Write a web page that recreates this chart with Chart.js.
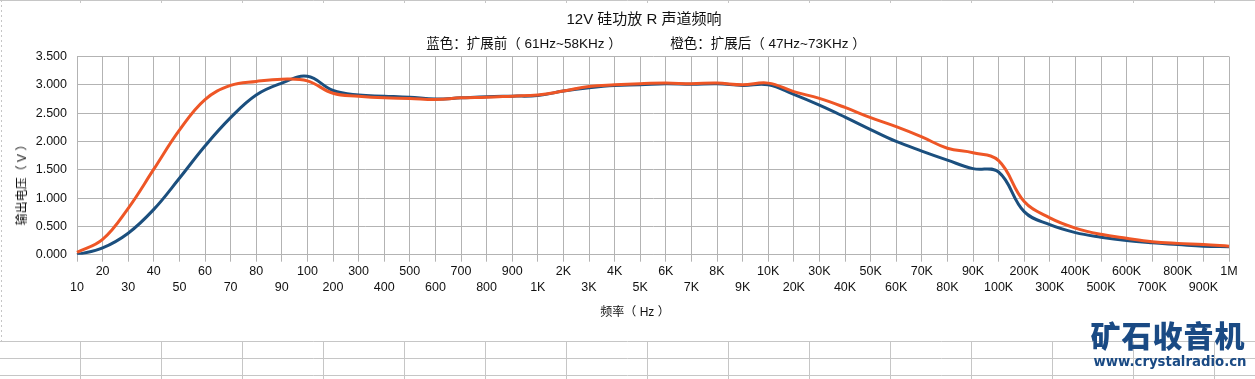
<!DOCTYPE html>
<html>
<head>
<meta charset="utf-8">
<script src="https://cdn.jsdelivr.net/npm/chart.js@4.4.1/dist/chart.umd.min.js"></script>
<style>
  html, body { margin: 0; padding: 0; background: #fff; }
  #wrap { position: relative; width: 1255px; height: 379px; overflow: hidden;
          font-family: "Liberation Sans", "Noto Sans CJK SC", sans-serif; color: #111; }
  #wrap canvas { position: absolute; left: 0; top: 0; }
  .txt { position: absolute; white-space: pre; line-height: 1; transform: translate(-50%, -50%); }
  #title { left: 644px; top: 18px; font-size: 15px; }
  #sub1 { left: 524px; top: 44px; font-size: 13.5px; }
  #sub2 { left: 768px; top: 44px; font-size: 13.5px; }
  #xtitle { left: 635px; top: 312px; font-size: 12px; }
  #ytitle { left: 22px; top: 182px; font-size: 12px; transform: translate(-50%, -50%) rotate(-90deg); }
  #logo1 { left: 1168px; top: 334px; font-size: 30px; font-weight: 900; color: #1a4a84;
           font-family: "Noto Sans CJK SC", sans-serif; letter-spacing: 1px; }
  #logo2 { left: 1170px; top: 362px; font-size: 13.3px; font-weight: bold; color: #1a4a84;
           font-family: "DejaVu Sans", sans-serif; }
</style>
</head>
<body>
<div id="wrap">
  <canvas id="freqChart" width="1255" height="379"></canvas>
  <div class="txt" id="title">12V 硅功放 R 声道频响</div>
  <div class="txt" id="sub1">蓝色：扩展前（ 61Hz~58KHz ）</div>
  <div class="txt" id="sub2">橙色：扩展后（ 47Hz~73KHz ）</div>
  <div class="txt" id="xtitle">频率（ Hz ）</div>
  <div class="txt" id="ytitle">输出电压（ V ）</div>
  <div class="txt" id="logo1">矿石收音机</div>
  <div class="txt" id="logo2">www.crystalradio.cn</div>
</div>
<script>
// ── Data ───────────────────────────────────────────
const freqLabels = [
  '10','20','30','40','50','60','70','80','90','100',
  '200','300','400','500','600','700','800','900','1K',
  '2K','3K','4K','5K','6K','7K','8K','9K','10K',
  '20K','30K','40K','50K','60K','70K','80K','90K','100K',
  '200K','300K','400K','500K','600K','700K','800K','900K','1M'
];

// blue: before extension (61Hz~58KHz)
const voltBefore = [
  0.00, 0.12, 0.38, 0.80, 1.35, 1.92, 2.42, 2.82, 3.03, 3.15,
  2.90, 2.82, 2.80, 2.78, 2.75, 2.77, 2.79, 2.80, 2.81,
  2.89, 2.95, 2.99, 3.00, 3.02, 3.01, 3.02, 2.99, 3.00,
  2.83, 2.64, 2.43, 2.21, 2.00, 1.83, 1.67, 1.52, 1.46,
  0.76, 0.53, 0.39, 0.31, 0.25, 0.21, 0.18, 0.15, 0.14
];

// orange: after extension (47Hz~73KHz)
const voltAfter = [
  0.04, 0.27, 0.82, 1.51, 2.20, 2.74, 2.99, 3.06, 3.10, 3.07,
  2.85, 2.80, 2.77, 2.76, 2.74, 2.77, 2.78, 2.80, 2.82,
  2.89, 2.97, 3.00, 3.02, 3.03, 3.02, 3.03, 3.00, 3.03,
  2.88, 2.76, 2.60, 2.42, 2.26, 2.08, 1.88, 1.80, 1.66,
  0.94, 0.65, 0.47, 0.36, 0.29, 0.23, 0.20, 0.18, 0.15
];

const yMin = 0, yMax = 3.5, yStep = 0.5;

const gridColor = '#b3b3b3';
const tickFont = { family: 'Liberation Sans', size: 12.5, lineHeight: 1.25 };

// ── spreadsheet cells behind the chart object ─────
const sheetLines = {
  id: 'sheetLines',
  beforeDraw(chart) {
    const ctx = chart.ctx;
    ctx.save();
    ctx.strokeStyle = '#c6c6c6';
    ctx.lineWidth = 1;
    ctx.beginPath();
    ctx.moveTo(0, 0.5); ctx.lineTo(1255, 0.5);
    [341.5, 358.5, 375.5].forEach(y => { ctx.moveTo(0, y); ctx.lineTo(1255, y); });
    for (let x = 80.5; x < 1255; x += 81) {
      ctx.moveTo(x, 0); ctx.lineTo(x, 3);
      ctx.moveTo(x, 341); ctx.lineTo(x, 379);
    }
    ctx.stroke();
    ctx.setLineDash([2, 3]);
    ctx.beginPath();
    ctx.moveTo(1.5, 0); ctx.lineTo(1.5, 341);
    ctx.stroke();
    ctx.restore();
  }
};

new Chart(document.getElementById('freqChart'), {
  type: 'line',
  data: {
    labels: freqLabels,
    datasets: [
      {
        label: '扩展前',
        data: voltBefore,
        borderColor: '#1b4f7e',
        order: 1
      },
      {
        label: '扩展后',
        data: voltAfter,
        borderColor: '#ee5626',
        order: 0
      }
    ]
  },
  options: {
    responsive: false,
    animation: false,
    devicePixelRatio: 1,
    layout: { padding: { top: 56.5, right: 26, bottom: 84.3, left: 0 } },
    elements: {
      point: { radius: 0 },
      line: { borderWidth: 3, tension: 0.4, fill: false }
    },
    plugins: {
      legend: { display: false },
      tooltip: { enabled: false },
      title: { display: false }
    },
    scales: {
      x: {
        offset: false,
        grid: { color: gridColor, tickLength: 7 },
        border: { color: gridColor },
        ticks: {
          autoSkip: false, maxRotation: 0, minRotation: 0, padding: 2,
          color: '#111', font: tickFont,
          callback: (v, i) => i % 2 === 0 ? ['', freqLabels[i]] : [freqLabels[i]]
        },
        afterFit: s => { s.height = 40; }
      },
      y: {
        min: yMin, max: yMax,
        grid: { color: gridColor, drawTicks: false },
        border: { color: gridColor },
        ticks: {
          stepSize: yStep, padding: 10, color: '#111', font: tickFont,
          callback: v => Number(v).toFixed(3)
        },
        afterFit: s => { s.width = 77; }
      }
    }
  },
  plugins: [sheetLines]
});
</script>
</body>
</html>
